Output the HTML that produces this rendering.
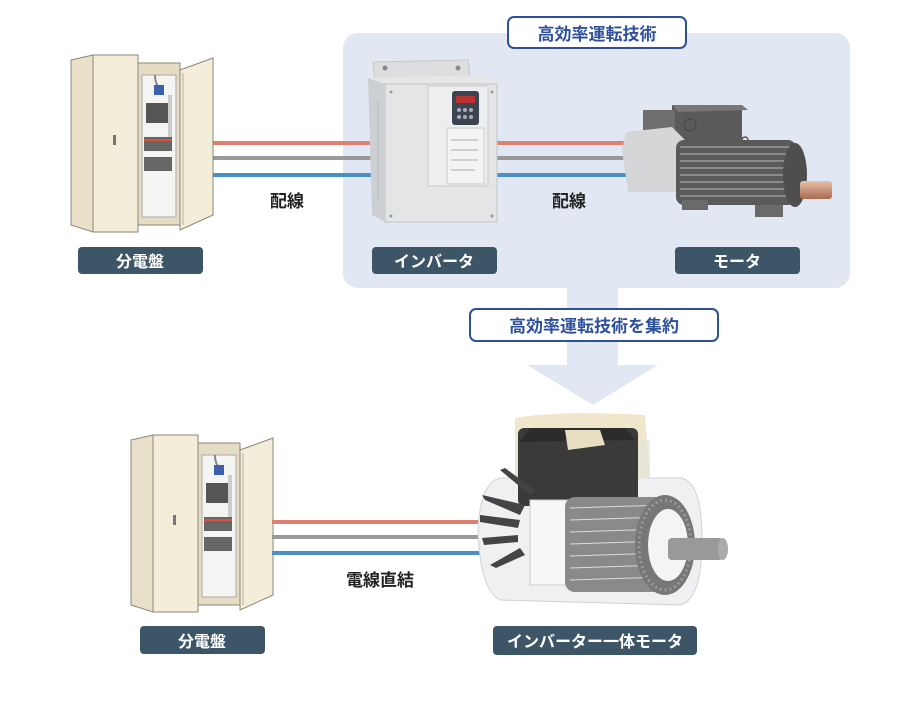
<!DOCTYPE html>
<html><head><meta charset="utf-8"><style>
body{margin:0;background:#fff;}
svg{display:block;}
text{font-family:"Liberation Sans","Noto Sans CJK JP",sans-serif;font-weight:bold;}
</style></head><body>
<svg width="900" height="720" viewBox="0 0 900 720" xmlns="http://www.w3.org/2000/svg">
<defs>
<g id="cab">
  <polygon points="1,5 23,0 23,177 1,170" fill="#e8e0c8" stroke="#8d8676" stroke-width="1"/>
  <rect x="23" y="0" width="45" height="177" fill="#f3edd9" stroke="#8d8676" stroke-width="1"/>
  <rect x="68" y="8" width="42" height="162" fill="#e4dcc4" stroke="#8d8676" stroke-width="1"/>
  <rect x="72" y="20" width="34" height="142" fill="#f4f4f2" stroke="#aaa" stroke-width="1"/>
  <path d="M85 20 q0 10 6 14" stroke="#888" stroke-width="2" fill="none"/>
  <rect x="84" y="30" width="10" height="10" fill="#3d5fb0"/>
  <rect x="76" y="48" width="26" height="20" fill="#555"/>
  <rect x="98" y="40" width="4" height="55" fill="#ccc"/>
  <rect x="74" y="82" width="28" height="14" fill="#666"/>
  <rect x="74" y="84" width="28" height="2" fill="#d9533b"/>
  <rect x="74" y="102" width="28" height="14" fill="#666"/>
  <rect x="43" y="80" width="3" height="10" fill="#777"/>
  <polygon points="110,15 143,3 143,160 110,175" fill="#f3edd9" stroke="#8d8676" stroke-width="1"/>
  <line x1="113" y1="18" x2="113" y2="170" stroke="#b9b19c"/>
</g>
<linearGradient id="sh" x1="0" y1="0" x2="0" y2="1"><stop offset="0" stop-color="#e8c0a8"/><stop offset="1" stop-color="#a86a50"/></linearGradient>
</defs>

<rect x="343" y="33" width="507" height="255" rx="15" fill="#e2e7f4"/>
<rect x="508" y="17" width="178" height="31" rx="6" fill="#fff" stroke="#2d4f9c" stroke-width="2"/>
<text x="597" y="40" font-size="17" fill="#2d4f9c" text-anchor="middle">高効率運転技術</text>

<polygon points="567,288 618,288 618,365 658,365 593,405 527,365 567,365" fill="#e2e7f4"/>
<rect x="470" y="309" width="248" height="32" rx="6" fill="#fff" stroke="#2d4f9c" stroke-width="2"/>
<text x="594" y="332" font-size="17" fill="#2d4f9c" text-anchor="middle">高効率運転技術を集約</text>

<g stroke-width="4">
<line x1="212" y1="143" x2="380" y2="143" stroke="#e08070"/>
<line x1="212" y1="158" x2="380" y2="158" stroke="#999"/>
<line x1="212" y1="175" x2="380" y2="175" stroke="#4a90c8"/>
<line x1="495" y1="143" x2="635" y2="143" stroke="#e08070"/>
<line x1="495" y1="158" x2="635" y2="158" stroke="#999"/>
<line x1="495" y1="175" x2="635" y2="175" stroke="#4a90c8"/>
</g>
<text x="287" y="207" font-size="17" fill="#222" text-anchor="middle" font-weight="normal">配線</text>
<text x="569" y="207" font-size="17" fill="#222" text-anchor="middle" font-weight="normal">配線</text>

<use href="#cab" x="70" y="55"/>

<!-- inverter -->
<polygon points="373,62 468,60 470,78 375,80" fill="#dcdee0" stroke="#c4c6c8"/>
<circle cx="385" cy="68" r="2.5" fill="#888"/><circle cx="458" cy="68" r="2.5" fill="#888"/>
<polygon points="368,78 482,75 497,82 385,86" fill="#e4e6e7"/>
<rect x="385" y="84" width="112" height="138" fill="#e3e5e6" stroke="#c2c4c6"/>
<polygon points="368,78 385,84 385,222 372,215" fill="#cdd0d2"/>
<g stroke="#b8bbbe"><line x1="378" y1="100" x2="378" y2="200"/><line x1="432" y1="88" x2="432" y2="185"/><line x1="440" y1="88" x2="440" y2="185"/></g>
<rect x="428" y="86" width="60" height="100" fill="#eceeef" stroke="#c9c9c9"/>
<rect x="452" y="91" width="27" height="34" rx="3" fill="#3c4450"/>
<rect x="456" y="96" width="19" height="7" fill="#b33"/>
<g fill="#aab"><circle cx="459" cy="110" r="2"/><circle cx="465" cy="110" r="2"/><circle cx="471" cy="110" r="2"/><circle cx="459" cy="117" r="2"/><circle cx="465" cy="117" r="2"/><circle cx="471" cy="117" r="2"/></g>
<rect x="447" y="128" width="37" height="56" fill="#f4f4f4" stroke="#ccc"/>
<g stroke="#aaa"><line x1="451" y1="140" x2="478" y2="140"/><line x1="451" y1="150" x2="478" y2="150"/><line x1="451" y1="160" x2="478" y2="160"/><line x1="451" y1="170" x2="475" y2="170"/></g>
<circle cx="391" cy="92" r="1.5" fill="#999"/><circle cx="492" cy="92" r="1.5" fill="#999"/><circle cx="391" cy="216" r="1.5" fill="#999"/><circle cx="492" cy="216" r="1.5" fill="#999"/>

<!-- motor -->
<rect x="672" y="105" width="70" height="40" fill="#5a5a5a"/>
<polygon points="672,105 742,105 748,110 678,112" fill="#777"/>
<circle cx="690" cy="125" r="6" fill="none" stroke="#444"/>
<rect x="643" y="110" width="32" height="20" fill="#6e6e6e"/>
<polygon points="626,132 672,127 685,140 685,192 628,192 622,150" fill="#d5d6d7"/>
<rect x="676" y="140" width="120" height="65" rx="8" fill="#5a5a5a"/>
<g stroke="#999" stroke-width="1.5">
<line x1="680" y1="147" x2="794" y2="147"/><line x1="680" y1="154" x2="794" y2="154"/>
<line x1="680" y1="161" x2="794" y2="161"/><line x1="680" y1="168" x2="794" y2="168"/>
<line x1="680" y1="175" x2="794" y2="175"/><line x1="680" y1="182" x2="794" y2="182"/>
<line x1="680" y1="189" x2="794" y2="189"/><line x1="680" y1="196" x2="794" y2="196"/>
</g>
<ellipse cx="795" cy="175" rx="12" ry="32" fill="#4e4e4e"/>
<rect x="800" y="181" width="32" height="18" rx="3" fill="url(#sh)"/>
<rect x="682" y="200" width="26" height="10" fill="#6a6a6a"/>
<rect x="755" y="205" width="28" height="12" fill="#6a6a6a"/>
<circle cx="745" cy="140" r="3" fill="none" stroke="#555" stroke-width="1.5"/>

<rect x="78" y="247" width="125" height="27" rx="4" fill="#3c5567"/>
<text x="140" y="267" font-size="16" fill="#fff" text-anchor="middle">分電盤</text>
<rect x="372" y="247" width="125" height="27" rx="4" fill="#3c5567"/>
<text x="434" y="267" font-size="16" fill="#fff" text-anchor="middle">インバータ</text>
<rect x="675" y="247" width="125" height="27" rx="4" fill="#3c5567"/>
<text x="737" y="267" font-size="16" fill="#fff" text-anchor="middle">モータ</text>

<use href="#cab" x="130" y="435"/>
<g stroke-width="4">
<line x1="272" y1="522" x2="490" y2="522" stroke="#e08070"/>
<line x1="272" y1="537" x2="490" y2="537" stroke="#999"/>
<line x1="272" y1="553" x2="490" y2="553" stroke="#4a90c8"/>
</g>
<text x="380" y="586" font-size="17" fill="#222" text-anchor="middle" font-weight="normal">電線直結</text>

<!-- integrated motor -->
<path d="M500 478 Q480 483 478 530 Q480 590 500 600 L680 605 Q702 600 702 540 Q702 480 680 478 Z" fill="#eef0f2" stroke="#d0d2d4"/>
<path d="M515 418 Q560 410 645 415 L650 478 L515 482 Z" fill="#efe6cc"/>
<path d="M515 440 L650 440 L650 478 L515 482 Z" fill="#e6e4dc" opacity="0.7"/>
<rect x="518" y="428" width="120" height="78" rx="6" fill="#3a3a3a"/>
<polygon points="530,428 625,428 635,440 520,442" fill="#2c2c2c"/>
<polygon points="565,430 600,430 605,445 568,450" fill="#e8dfc2"/>
<g fill="#444">
<polygon points="525,505 482,495 485,500 520,515"/>
<polygon points="520,520 480,515 480,522 518,528"/>
<polygon points="518,535 482,538 484,545 518,542"/>
<polygon points="520,548 490,565 496,568 525,555"/>
<polygon points="530,495 500,470 505,468 535,490"/>
</g>
<rect x="530" y="500" width="40" height="85" fill="#f7f7f7" stroke="#ccc"/>
<rect x="565" y="497" width="105" height="95" rx="10" fill="#8a8a8a"/>
<g stroke="#ddd" stroke-width="1">
<line x1="570" y1="508" x2="665" y2="505"/><line x1="570" y1="520" x2="665" y2="517"/>
<line x1="570" y1="532" x2="665" y2="529"/><line x1="570" y1="544" x2="665" y2="541"/>
<line x1="570" y1="556" x2="665" y2="553"/><line x1="570" y1="568" x2="665" y2="565"/>
<line x1="570" y1="580" x2="665" y2="577"/>
</g>
<ellipse cx="665" cy="545" rx="30" ry="50" fill="#777"/>
<ellipse cx="665" cy="545" rx="26" ry="45" fill="none" stroke="#999" stroke-width="3" stroke-dasharray="2 3"/>
<ellipse cx="668" cy="545" rx="20" ry="36" fill="#f4f4f4"/>
<rect x="668" y="538" width="55" height="22" rx="4" fill="#999"/>
<ellipse cx="723" cy="549" rx="5" ry="11" fill="#aaa"/>

<rect x="140" y="626" width="125" height="28" rx="4" fill="#3c5567"/>
<text x="202" y="647" font-size="16" fill="#fff" text-anchor="middle">分電盤</text>
<rect x="493" y="626" width="204" height="29" rx="4" fill="#3c5567"/>
<text x="595" y="647" font-size="16" fill="#fff" text-anchor="middle">インバーター一体モータ</text>
</svg>
</body></html>
